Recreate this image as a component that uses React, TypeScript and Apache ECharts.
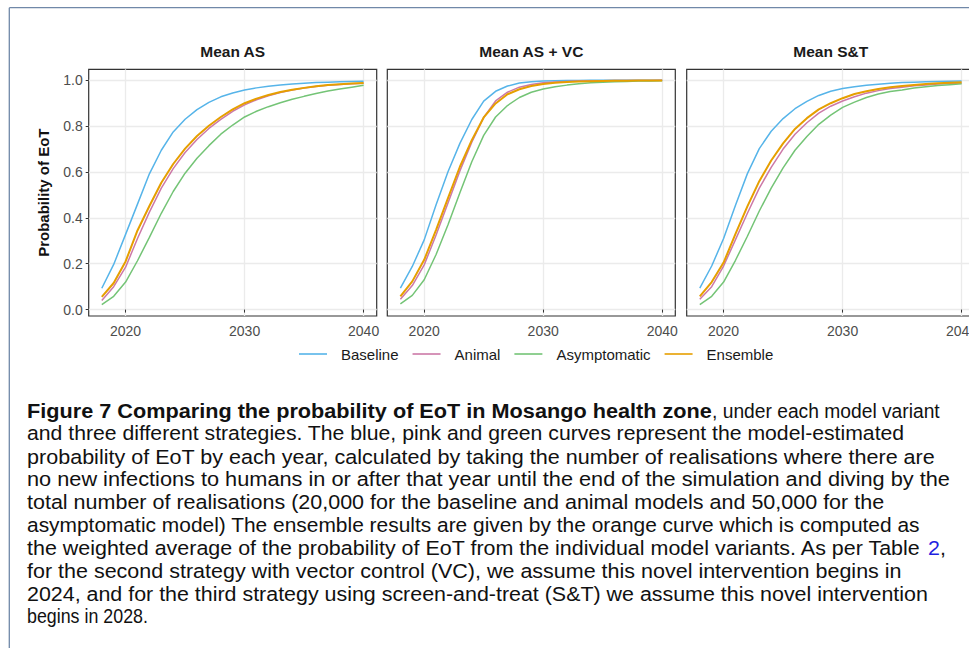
import React, { useEffect, useRef } from 'react';
import * as echarts from 'echarts';

const years = [2018, 2019, 2020, 2021, 2022, 2023, 2024, 2025, 2026, 2027, 2028, 2029, 2030, 2031, 2032, 2033, 2034, 2035, 2036, 2037, 2038, 2039, 2040];

const panelTitles = ['Mean AS', 'Mean AS + VC', 'Mean S&T'];
const modelNames = ['Baseline', 'Animal', 'Asymptomatic', 'Ensemble'];
const modelColors = ['#56B4E9', '#CC79A7', '#74C476', '#E69F00'];
const xTicks = [2020, 2030, 2040];
const yTicks = [0, 0.2, 0.4, 0.6, 0.8, 1.0];
const yTitle = 'Probability of EoT';

// Mean AS
const asBaseline = [0.093, 0.197, 0.328, 0.46, 0.592, 0.695, 0.775, 0.83, 0.872, 0.904, 0.928, 0.945, 0.958, 0.967, 0.974, 0.979, 0.984, 0.987, 0.99, 0.992, 0.994, 0.995, 0.996];
const asAnimal = [0.04, 0.1, 0.185, 0.31, 0.425, 0.53, 0.615, 0.685, 0.742, 0.79, 0.83, 0.865, 0.893, 0.915, 0.933, 0.947, 0.958, 0.966, 0.973, 0.978, 0.982, 0.985, 0.987];
const asAsymptomatic = [0.022, 0.058, 0.12, 0.213, 0.315, 0.42, 0.515, 0.595, 0.66, 0.715, 0.765, 0.805, 0.84, 0.865, 0.885, 0.902, 0.917, 0.93, 0.942, 0.953, 0.962, 0.97, 0.978];
const asEnsemble = [0.055, 0.116, 0.21, 0.345, 0.452, 0.553, 0.635, 0.702, 0.757, 0.802, 0.84, 0.873, 0.9, 0.92, 0.936, 0.949, 0.959, 0.967, 0.974, 0.979, 0.983, 0.986, 0.988];

// Mean AS + VC
const vcBaseline = [0.094, 0.188, 0.304, 0.457, 0.601, 0.725, 0.829, 0.909, 0.952, 0.975, 0.988, 0.994, 0.997, 0.998, 0.999, 0.999, 1, 1, 1, 1, 1, 1, 1];
const vcAnimal = [0.045, 0.105, 0.195, 0.325, 0.465, 0.605, 0.73, 0.838, 0.91, 0.948, 0.97, 0.982, 0.989, 0.993, 0.995, 0.997, 0.998, 0.998, 0.999, 0.999, 0.999, 0.999, 1];
const vcAsymptomatic = [0.025, 0.062, 0.13, 0.24, 0.37, 0.51, 0.645, 0.76, 0.84, 0.89, 0.925, 0.948, 0.962, 0.972, 0.979, 0.985, 0.989, 0.992, 0.994, 0.995, 0.997, 0.997, 0.998];
const vcEnsemble = [0.058, 0.123, 0.217, 0.348, 0.486, 0.623, 0.739, 0.838, 0.899, 0.939, 0.961, 0.975, 0.984, 0.989, 0.993, 0.995, 0.996, 0.997, 0.998, 0.998, 0.999, 0.999, 0.999];

// Mean S&T
const stBaseline = [0.094, 0.19, 0.31, 0.455, 0.593, 0.702, 0.778, 0.833, 0.876, 0.908, 0.934, 0.952, 0.964, 0.972, 0.978, 0.983, 0.987, 0.99, 0.992, 0.994, 0.995, 0.996, 0.997];
const stAnimal = [0.045, 0.1, 0.19, 0.305, 0.42, 0.53, 0.62, 0.7, 0.765, 0.815, 0.857, 0.887, 0.91, 0.928, 0.944, 0.955, 0.964, 0.97, 0.976, 0.98, 0.984, 0.986, 0.988];
const stAsymptomatic = [0.022, 0.058, 0.12, 0.215, 0.32, 0.43, 0.53, 0.618, 0.695, 0.755, 0.808, 0.848, 0.882, 0.905, 0.925, 0.94, 0.951, 0.958, 0.966, 0.972, 0.977, 0.981, 0.985];
const stEnsemble = [0.058, 0.12, 0.205, 0.33, 0.45, 0.56, 0.65, 0.725, 0.788, 0.835, 0.873, 0.9, 0.922, 0.94, 0.952, 0.962, 0.97, 0.975, 0.98, 0.984, 0.987, 0.989, 0.991];

const panelData = [
  [asBaseline, asAnimal, asAsymptomatic, asEnsemble],
  [vcBaseline, vcAnimal, vcAsymptomatic, vcEnsemble],
  [stBaseline, stAnimal, stAsymptomatic, stEnsemble],
];

const captionBold = 'Figure 7 Comparing the probability of EoT in Mosango health zone';
const captionFirstRest = ', under each model variant';
const captionLines = [
  'and three different strategies. The blue, pink and green curves represent the model-estimated',
  'probability of EoT by each year, calculated by taking the number of realisations where there are',
  'no new infections to humans in or after that year until the end of the simulation and diving by the',
  'total number of realisations (20,000 for the baseline and animal models and 50,000 for the',
  'asymptomatic model) The ensemble results are given by the orange curve which is computed as',
  'the weighted average of the probability of EoT from the individual model variants. As per Table ',
  'for the second strategy with vector control (VC), we assume this novel intervention begins in',
  '2024, and for the third strategy using screen-and-treat (S&T) we assume this novel intervention',
  'begins in 2028.',
];
const tableRef = '2';

const FONT = '"Liberation Sans", Arial, Helvetica, sans-serif';

export default function App() {
  const ref = useRef<HTMLDivElement>(null);

  useEffect(() => {
    if (!ref.current) return;
    const chart = echarts.init(ref.current, null, { renderer: 'svg' });

    const gridLefts = [88.7, 387.3, 686.7];
    const gridTop = 69.3;
    const gridW = 288;
    const gridH = 246.7;

    // caption layout (right edges of each caption line in the page)
    const capSize = 19.5;
    const capX = 27;
    const capY0 = 411;
    const capDy = 22.8;
    const boldEnd = 712;
    const firstEnd = 940;
    const lineEnds = [905, 936, 950, 885, 920, 946, 902, 929, 148];

    const ctx = document.createElement('canvas').getContext('2d')!;
    const measure = (t: string, bold = false) => {
      ctx.font = `${bold ? 'bold ' : ''}${capSize}px ${FONT}`;
      return ctx.measureText(t).width;
    };

    const graphic: any[] = [
      { type: 'line', shape: { x1: 9.3, y1: 7.7, x2: 969, y2: 7.7 }, style: { stroke: '#7088a8', lineWidth: 1.3 } },
      { type: 'line', shape: { x1: 9.3, y1: 7.7, x2: 9.3, y2: 648 }, style: { stroke: '#7088a8', lineWidth: 1.3 } },
      {
        type: 'text', x: capX, y: capY0, scaleX: (boldEnd - capX) / measure(captionBold, true),
        style: { text: captionBold, fontFamily: FONT, fontSize: capSize, fontWeight: 'bold', fill: '#111', verticalAlign: 'middle' },
      },
      {
        type: 'text', x: boldEnd, y: capY0, scaleX: (firstEnd - boldEnd) / measure(captionFirstRest),
        style: { text: captionFirstRest, fontFamily: FONT, fontSize: capSize, fill: '#111', verticalAlign: 'middle' },
      },
    ];
    captionLines.forEach((line, i) => {
      const isTable = i === 5;
      const full = isTable ? `${line}${tableRef},` : line;
      const sx = (lineEnds[i] - capX) / measure(full);
      graphic.push({
        type: 'text', x: capX, y: capY0 + capDy * (i + 1), scaleX: sx,
        style: {
          text: isTable ? `${line}{l|${tableRef}},` : line,
          fontFamily: FONT, fontSize: capSize, fill: '#111', verticalAlign: 'middle',
          rich: { l: { fontFamily: FONT, fontSize: capSize, fill: '#1f1fe0' } },
        },
      });
    });

    const grids = gridLefts.map((l) => ({
      left: l, top: gridTop, width: gridW, height: gridH,
      show: true, borderColor: '#333333', borderWidth: 1.2, backgroundColor: 'transparent',
      containLabel: false, outerBoundsMode: 'none',
    }));

    const xAxes = gridLefts.map((_, p) => ({
      type: 'value', gridIndex: p, min: 2016.9, max: 2041.1,
      axisLine: { show: false },
      axisTick: { show: true, length: 3, lineStyle: { color: '#333333', width: 1 }, customValues: xTicks },
      axisLabel: { customValues: xTicks, formatter: (v: number) => String(v), color: '#4D4D4D', fontSize: 14, margin: 8, fontFamily: FONT, hideOverlap: false },
      splitLine: { show: true, lineStyle: { color: '#EBEBEB', width: 1.3 } },
    }));

    const yAxes = gridLefts.map((_, p) => ({
      type: 'value', gridIndex: p, min: -0.028, max: 1.048,
      axisLine: { show: false },
      axisTick: { show: p === 0, length: 3, lineStyle: { color: '#333333', width: 1 }, customValues: yTicks },
      axisLabel: { show: p === 0, customValues: yTicks, formatter: (v: number) => v.toFixed(1), color: '#4D4D4D', fontSize: 14, margin: 6, fontFamily: FONT },
      splitLine: { show: true, lineStyle: { color: '#EBEBEB', width: 1.3 } },
      name: p === 0 ? yTitle : '',
      nameLocation: 'middle',
      nameGap: 38,
      nameTextStyle: { fontWeight: 'bold', fontSize: 15, color: '#111', fontFamily: FONT },
    }));

    const series: any[] = [];
    panelData.forEach((models, p) => {
      models.forEach((vals, m) => {
        series.push({
          type: 'line', name: modelNames[m], xAxisIndex: p, yAxisIndex: p,
          data: years.map((yr, i) => [yr, vals[i]]),
          symbol: 'none', showSymbol: false, smooth: false,
          lineStyle: { color: modelColors[m], width: m === 3 ? 2 : 1.5 },
          itemStyle: { color: modelColors[m] },
          z: 2 + m,
        });
      });
    });

    chart.setOption({
      animation: false,
      backgroundColor: '#ffffff',
      title: panelTitles.map((t, i) => ({
        text: t, left: gridLefts[i] + gridW / 2, top: 43, textAlign: 'center', padding: 0,
        textStyle: { fontSize: 15.5, fontWeight: 'bold', color: '#1a1a1a', fontFamily: FONT },
      })),
      legend: {
        data: modelNames, left: 299, top: 346.5, icon: 'rect', itemWidth: 28, itemHeight: 1.6, itemGap: 14, padding: 0,
        textStyle: { fontSize: 15, color: '#1a1a1a', fontFamily: FONT, padding: [0, 0, 0, 9] },
      },
      grid: grids,
      xAxis: xAxes,
      yAxis: yAxes,
      series,
      graphic,
    });

    return () => chart.dispose();
  }, []);

  return (
    <div
      ref={ref}
      style={{ position: 'fixed', left: 0, top: 0, width: 969, height: 648, background: '#fff' }}
    />
  );
}
